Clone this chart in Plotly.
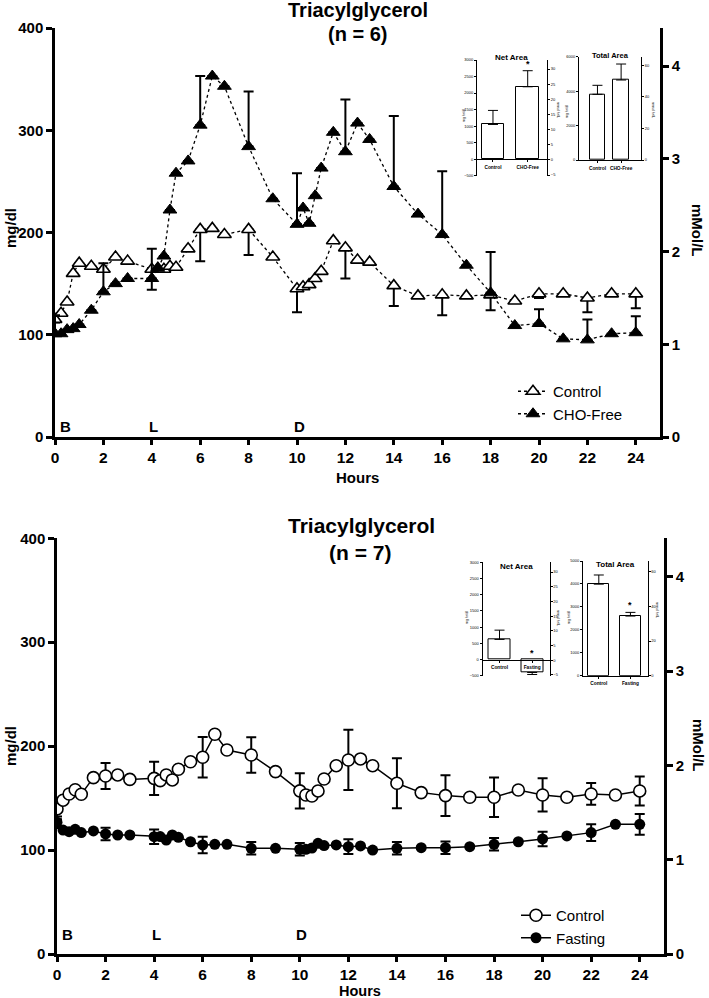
import plotly.graph_objects as go

W, H = 709, 998


def fx(p):
    return p / W


def fy(p):
    return 1 - p / H


FONT = "Liberation Sans, Arial, sans-serif"

# ---------------- data ----------------
hours = [0, 0.25, 0.5, 0.75, 1, 1.5, 2, 2.5, 3, 4, 4.25, 4.5, 4.75, 5, 5.5, 6, 6.5, 7, 8, 9,
         10, 10.25, 10.5, 10.75, 11, 11.5, 12, 12.5, 13, 14, 15, 16, 17, 18, 19, 20, 21, 22, 23, 24]

top_control = [115, 121, 132, 160, 170, 167, 164, 176, 172, 164, 165, 164, 167, 166, 184, 203, 204, 198, 203, 176,
               145, 147, 149, 155, 162, 192, 185, 173, 171, 148, 138, 139, 138, 139, 133, 140, 140, 136, 140, 140]
top_control_err_minus = [3, 0, 0, 0, 0, 0, 0, 0, 0, 20, 0, 0, 0, 0, 0, 31, 0, 0, 25, 0,
                         23, 0, 0, 0, 0, 0, 30, 0, 0, 20, 0, 20, 0, 15, 0, 4, 0, 14, 0, 14]
top_chofree = [101, 101, 105, 106, 110, 124, 142, 150, 155, 155, 165, 177, 222, 258, 270, 305, 353, 343, 284, 233,
               208, 224, 209, 236, 263, 298, 279, 307, 291, 245, 218, 198, 168, 141, 109, 111, 96, 95, 101, 102]
top_chofree_err_plus = [18, 0, 0, 0, 0, 0, 28, 0, 0, 29, 0, 0, 0, 0, 0, 48, 0, 0, 54, 0,
                        50, 0, 0, 0, 0, 0, 51, 0, 0, 69, 0, 62, 0, 40, 0, 14, 0, 20, 0, 16]

bot_control = [139.6, 148, 154, 158, 153.7, 169.7, 171.3, 172.3, 168, 169, 166.8, 172.3, 167.5, 177.8, 185, 189.3,
               211.4, 196.3, 191.5, 175.5, 157, 153, 152, 156.9, 168.4, 181.2, 186.7, 187.7, 181.2, 164.3, 155.3,
               152.4, 150.8, 150.8, 157.8, 153, 150.8, 154, 153, 156.9]
bot_control_err = [10, 0, 0, 0, 0, 0, 12.5, 0, 0, 16, 0, 0, 0, 0, 0, 19.5, 0, 0, 17, 0,
                   17, 0, 0, 0, 0, 0, 29, 0, 0, 24, 0, 19.5, 0, 19, 0, 16, 0, 10.5, 0, 14]
bot_fasting = [126.7, 119.3, 117.7, 120, 116.8, 118.4, 115.5, 114.5, 114.5, 112.9, 113, 109.7, 114.5, 112.3, 108,
               104.9, 105.5, 105.5, 101.7, 101.7, 100.8, 100.8, 102, 106.5, 104.3, 104.9, 103.3, 104, 100, 101.7,
               102.3, 102.3, 103.3, 105.5, 108, 110.7, 113.6, 116.8, 124.8, 124.8]
bot_fasting_err = [5.5, 0, 0, 0, 0, 0, 6, 0, 0, 7, 0, 0, 0, 0, 0, 8, 0, 0, 6, 0,
                   6, 0, 0, 0, 0, 0, 7, 0, 0, 6, 0, 6, 0, 6, 0, 7, 0, 8, 0, 10]

top_groups = ["Control", "CHO-Free"]
top_net_values = [1050, 2190]
top_net_err = [425, 486]
top_total_values = [3815, 4646]
top_total_err = [523, 929]

bot_groups = ["Control", "Fasting"]
bot_net_values = [620, -402]
bot_net_err = [286, 62]
bot_total_values = [3990, 2600]
bot_total_err = [400, 160]

x_ticks = list(range(0, 25, 2))
y_ticks = [0, 100, 200, 300, 400]
mmol_ticks = [0, 1, 2, 3, 4]
net_ticks = [-500, 0, 500, 1000, 1500, 2000, 2500, 3000]
net_mmol_ticks = [-5, 0, 5, 10, 15, 20, 25, 30]
top_total_ticks = [0, 2000, 4000, 6000]
bot_total_ticks = [0, 1000, 2000, 3000, 4000, 5000]
total_mmol_ticks = [0, 20, 40, 60]
meal_labels = ["B", "L", "D"]
meal_hours = [0, 4, 10]
MG_PER_MMOL = 90.7

fig = go.Figure()

# ---------------- main traces ----------------
err_style = dict(type="data", color="black", thickness=2, width=5, symmetric=False)

fig.add_trace(go.Scatter(
    x=hours, y=top_control, name="Control", mode="lines+markers", legend="legend",
    line=dict(color="black", width=1.3, dash="dot"),
    marker=dict(symbol="triangle-up", size=12, color="white", line=dict(color="black", width=1.6)),
    error_y=dict(array=[0] * len(hours), arrayminus=top_control_err_minus, **err_style),
    xaxis="x", yaxis="y"))
fig.add_trace(go.Scatter(
    x=hours, y=top_chofree, name="CHO-Free", mode="lines+markers", legend="legend",
    line=dict(color="black", width=1.3, dash="dot"),
    marker=dict(symbol="triangle-up", size=12, color="black", line=dict(color="black", width=1)),
    error_y=dict(array=top_chofree_err_plus, arrayminus=[0] * len(hours), **err_style),
    xaxis="x", yaxis="y"))

fig.add_trace(go.Scatter(
    x=hours, y=bot_control, name="Control", mode="lines+markers", legend="legend2",
    line=dict(color="black", width=1.5),
    marker=dict(symbol="circle", size=12, color="white", line=dict(color="black", width=1.6)),
    error_y=dict(type="data", array=bot_control_err, color="black", thickness=2, width=5),
    xaxis="x4", yaxis="y7"))
fig.add_trace(go.Scatter(
    x=hours, y=bot_fasting, name="Fasting", mode="lines+markers", legend="legend2",
    line=dict(color="black", width=1.5),
    marker=dict(symbol="circle", size=11, color="black"),
    error_y=dict(type="data", array=bot_fasting_err, color="black", thickness=2, width=5),
    xaxis="x4", yaxis="y7"))

# dummy traces so right axes render
for xa, ya in [("x", "y2"), ("x2", "y4"), ("x3", "y6"), ("x4", "y8"), ("x5", "y10"), ("x6", "y12")]:
    fig.add_trace(go.Scatter(x=[], y=[], xaxis=xa, yaxis=ya, showlegend=False, hoverinfo="skip"))


# ---------------- inset bars ----------------
def add_bars(groups, values, errs, xa, ya, width):
    fig.add_trace(go.Bar(
        x=groups, y=values, xaxis=xa, yaxis=ya, width=width, showlegend=False,
        marker=dict(color="white", line=dict(color="black", width=1)),
        error_y=dict(type="data", symmetric=False,
                     array=[e if v >= 0 else 0 for v, e in zip(values, errs)],
                     arrayminus=[e if v < 0 else 0 for v, e in zip(values, errs)],
                     color="black", thickness=1, width=5)))


add_bars(top_groups, top_net_values, top_net_err, "x2", "y3", 0.65)
add_bars(top_groups, top_total_values, top_total_err, "x3", "y5", 0.65)
add_bars(bot_groups, bot_net_values, bot_net_err, "x5", "y9", 0.67)
add_bars(bot_groups, bot_total_values, bot_total_err, "x6", "y11", 0.66)

# ---------------- axes ----------------
bold = lambda s: dict(family=FONT, size=s, color="black", weight="bold")


def main_x(d0, d1, anchor):
    return dict(domain=[fx(d0), fx(d1)], anchor=anchor, range=[0, 25], tickvals=x_ticks,
                ticks="outside", ticklen=5, tickwidth=2.5, tickcolor="black",
                showline=True, linewidth=2.5, linecolor="black", showgrid=False, zeroline=False,
                tickfont=bold(15.5), automargin=False)


def main_y(p0, p1, anchor):
    return dict(domain=[fy(p1), fy(p0)], anchor=anchor, range=[0, 400], tickvals=y_ticks,
                ticks="outside", ticklen=6, tickwidth=2.5, tickcolor="black",
                showline=True, linewidth=2.5, linecolor="black", showgrid=False, zeroline=False,
                tickfont=bold(15), automargin=False)


def main_y_right(over, anchor):
    return dict(overlaying=over, side="right", anchor=anchor, range=[0, 400 / MG_PER_MMOL],
                tickvals=mmol_ticks, ticks="outside", ticklen=6, tickwidth=2.5, tickcolor="black",
                showline=True, linewidth=2.5, linecolor="black", showgrid=False, zeroline=False,
                tickfont=bold(15), automargin=False)


def inset_x(d0, d1, rng, anchor, position=None):
    d = dict(domain=[fx(d0), fx(d1)], range=rng, type="category",
             ticks="outside", ticklen=2, tickwidth=0.8, tickcolor="black",
             showline=True, linewidth=1, linecolor="black", showgrid=False, zeroline=False,
             tickfont=bold(4.8), automargin=False, ticklabelstandoff=1)
    if position is None:
        d["anchor"] = anchor
    else:
        d["anchor"] = "free"
        d["position"] = position
    return d


def inset_y(p0, p1, rng, ticks, anchor):
    return dict(domain=[fy(p1), fy(p0)], anchor=anchor, range=rng, tickvals=ticks,
                ticks="outside", ticklen=2, tickwidth=0.8, tickcolor="black",
                showline=True, linewidth=1, linecolor="black", showgrid=False, zeroline=False,
                tickfont=dict(family=FONT, size=4, color="black"), automargin=False)


def inset_y_right(over, rng, ticks, anchor):
    return dict(overlaying=over, side="right", anchor=anchor, range=rng, tickvals=ticks,
                ticks="outside", ticklen=2, tickwidth=0.8, tickcolor="black",
                showline=True, linewidth=1, linecolor="black", showgrid=False, zeroline=False,
                tickfont=dict(family=FONT, size=4, color="black"), automargin=False)


def zero_pos(p0, p1, rng):
    lo, hi = fy(p0), fy(p1)
    return lo + (0 - rng[0]) / (rng[1] - rng[0]) * (hi - lo)


top_net_rng = [-500, 3000]
bot_net_rng = [-500, 3000]

layout_axes = dict(
    xaxis=main_x(55, 660, "y"),
    yaxis=main_y(28, 437, "x"),
    yaxis2=main_y_right("y", "x"),
    xaxis2=inset_x(477, 547, [-0.46, 1.556], None, zero_pos(175.7, 60, top_net_rng)),
    yaxis3=inset_y(60, 175.7, top_net_rng, net_ticks, "x2"),
    yaxis4=inset_y_right("y3", [-5.2, 33.0], net_mmol_ticks, "x2"),
    xaxis3=inset_x(579, 641, [-0.78, 1.84], "y5"),
    yaxis5=inset_y(56.7, 160, [0, 6000], top_total_ticks, "x3"),
    yaxis6=inset_y_right("y5", [0, 65.45], total_mmol_ticks, "x3"),
    xaxis4=main_x(57, 664, "y7"),
    yaxis7=main_y(538.3, 954, "x4"),
    yaxis8=main_y_right("y7", "x4"),
    xaxis5=inset_x(482.5, 549.5, [-0.52, 1.53], None, zero_pos(675.7, 562.3, bot_net_rng)),
    yaxis9=inset_y(562.3, 675.7, bot_net_rng, net_ticks, "x5"),
    yaxis10=inset_y_right("y9", [-5.24, 33.3], net_mmol_ticks, "x5"),
    xaxis6=inset_x(583, 647.5, [-0.5, 1.54], "y11"),
    yaxis11=inset_y(561, 675.7, [0, 5000], bot_total_ticks, "x6"),
    yaxis12=inset_y_right("y11", [0, 66.2], total_mmol_ticks, "x6"),
)

# ---------------- annotations ----------------
ann = []


def text(x, y, s, size, weight="bold", angle=0, xanchor="center", yanchor="middle", xref="paper", yref="paper"):
    ann.append(dict(x=x, y=y, xref=xref, yref=yref, text=s, showarrow=False, textangle=angle,
                    xanchor=xanchor, yanchor=yanchor, borderpad=0,
                    font=dict(family=FONT, size=size, color="black", weight=weight)))


# titles
text(fx(358), fy(10), "Triacylglycerol", 20)
text(fx(357), fy(34), "(n = 6)", 20)
text(fx(361), fy(525), "Triacylglycerol", 21)
text(fx(360), fy(552), "(n = 7)", 21)
# axis titles
text(fx(10), fy(228), "mg/dl", 15, angle=-90)
text(fx(698), fy(230), "mMol/L", 15, angle=90)
text(fx(357), fy(478), "Hours", 15)
text(fx(10), fy(746), "mg/dl", 15, angle=-90)
text(fx(699), fy(745), "mMol/L", 15, angle=90)
text(fx(360), fy(991), "Hours", 14.5)
# meal markers
for lbl, hr in zip(meal_labels, meal_hours):
    ann.append(dict(x=hr, y=fy(427), xref="x", yref="paper", text=lbl, showarrow=False,
                    xanchor="left" if hr == 0 else "center", xshift=3 if hr == 0 else 2,
                    font=dict(family=FONT, size=15, color="black", weight="bold")))
    ann.append(dict(x=hr, y=fy(945), xref="x4", yref="paper", text=lbl, showarrow=False,
                    xanchor="left" if hr == 0 else "center", xshift=3 if hr == 0 else 2,
                    font=dict(family=FONT, size=15, color="black", weight="bold")))
# inset titles
text(fx(511), fy(57), "Net Area", 8)
text(fx(610), fy(55), "Total Area", 7.5)
text(fx(516), fy(566), "Net Area", 8)
text(fx(615), fy(564), "Total Area", 8)
# inset axis titles
for (xl, yl, xr, yr) in [(464, 116, 558, 110), (567, 112, 653, 110), (467, 618, 558, 618), (569, 618, 657, 610)]:
    text(fx(xl), fy(yl), "mg hr/dl", 3.6, weight="normal", angle=-90)
    text(fx(xr), fy(yr), "mmol hr/L", 3.6, weight="normal", angle=90)
# significance stars
ann.append(dict(x="CHO-Free", y=top_net_values[1] + top_net_err[1], xref="x2", yref="y3", text="*",
                showarrow=False, yanchor="bottom", font=dict(family=FONT, size=9, color="black", weight="bold")))
ann.append(dict(x="Fasting", y=0, xref="x5", yref="y9", text="*",
                showarrow=False, yanchor="bottom", font=dict(family=FONT, size=9, color="black", weight="bold")))
ann.append(dict(x="Fasting", y=bot_total_values[1] + bot_total_err[1], xref="x6", yref="y11", text="*",
                showarrow=False, yanchor="bottom", font=dict(family=FONT, size=9, color="black", weight="bold")))

leg = dict(xanchor="left", yanchor="top", bgcolor="rgba(0,0,0,0)", itemwidth=30, tracegroupgap=0,
           font=dict(family=FONT, size=15, color="black"))

fig.update_layout(
    width=W, height=998, margin=dict(l=0, r=0, t=0, b=0),
    paper_bgcolor="white", plot_bgcolor="white",
    showlegend=True,
    legend=dict(x=fx(513), y=fy(375), **leg),
    legend2=dict(x=fx(516), y=fy(899), **leg),
    annotations=ann,
    bargap=0,
    **layout_axes,
)

fig.write_html("out.html", config={"displayModeBar": False},
               post_script="document.body.style.margin='0';document.body.style.overflow='hidden';")
